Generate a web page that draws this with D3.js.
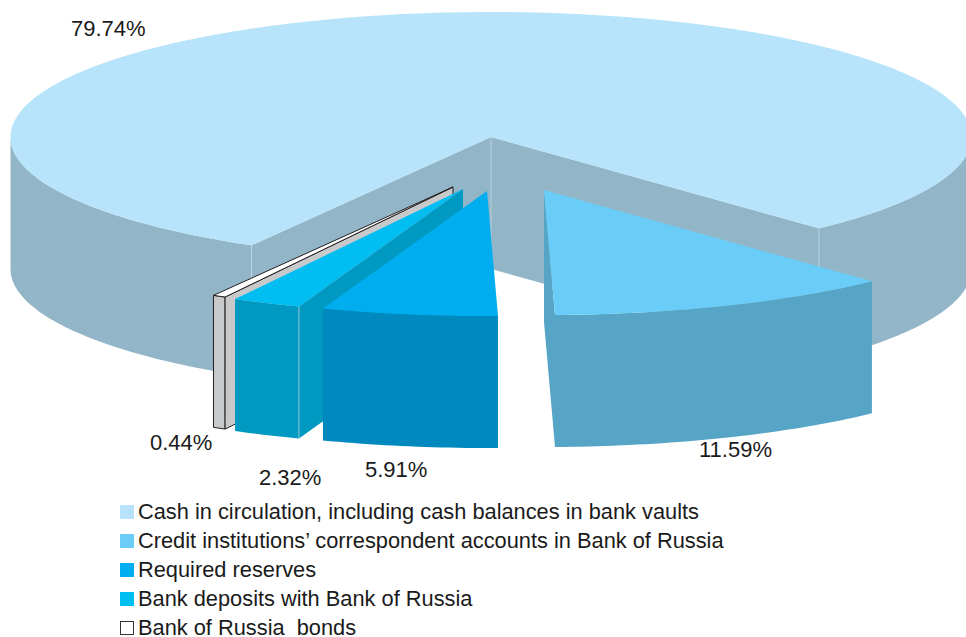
<!DOCTYPE html>
<html>
<head>
<meta charset="utf-8">
<script src="https://cdn.jsdelivr.net/npm/d3@7"></script>
<style>
body { margin: 0; background: #fff; overflow: hidden; }
svg { display: block; }
text { font-family: "Liberation Sans", Arial, sans-serif; fill: #1a1a1a; }
</style>
</head>
<body>
<script>
var categories = [
    "Cash in circulation, including cash balances in bank vaults",
    "Credit institutions\u2019 correspondent accounts in Bank of Russia",
    "Required reserves",
    "Bank deposits with Bank of Russia",
    "Bank of Russia  bonds"
];
var shares = [79.74, 11.59, 5.91, 2.32, 0.44];
var shareLabels = ["79.74%", "11.59%", "5.91%", "2.32%", "0.44%"];

var topColors = ["#b7e4fa", "#69cdf7", "#00aeef", "#00bdf2", "#ffffff"];
var sideColors = ["#93b5c8", "#56a5c6", "#0089bf", "#0099c2", "#c8c9cb"];

var width = 966,
    height = 637,
    cx = 491,
    cy = 137,
    rx = 480.5,
    ry = 125,
    depth = 132;

// how far each slice is pulled out of the pie, in pixels
var offsetX = [0, 53, -4, -28, -38];
var offsetY = [0, 53, 54, 52, 50];
var labelX = [71, 699, 365, 259, 150];
var labelY = [36, 457, 477, 485, 450];

// back to front
var drawOrder = [0, 4, 3, 2, 1];

var xScale = d3.scaleLinear().domain([-1, 1]).range([cx - rx, cx + rx]);
var yScale = d3.scaleLinear().domain([-1, 1]).range([cy - ry, cy + ry]);

var toRad = Math.PI / 180;
var start = 209.9 * toRad;
var pie = d3.pie().sort(null).startAngle(start).endAngle(start + 2 * Math.PI);
var slices = pie(shares);

var line = d3.line();

var svg = d3.select("body").append("svg")
    .attr("width", width)
    .attr("height", height);

var rim = (a, i, dy) => [
    xScale(Math.sin(a)) + offsetX[i],
    yScale(-Math.cos(a)) + offsetY[i] + dy
];
var apex = (i, dy) => [cx + offsetX[i], cy + offsetY[i] + dy];

var arcPoints = (a0, a1, i, dy) => {
    var steps = Math.max(2, Math.ceil((a1 - a0) / (1 * toRad)));
    return d3.range(steps + 1).map(k => rim(a0 + (a1 - a0) * k / steps, i, dy));
};

drawOrder.forEach(i => {
    var s = slices[i];
    var g = svg.append("g").attr("class", "slice");
    var stroke = i == 4 ? "#231f20" : "none";

    // outer wall, only the part turned to the viewer
    [[90, 270], [450, 630]].forEach(r => {
        var a0 = Math.max(s.startAngle, r[0] * toRad),
            a1 = Math.min(s.endAngle, r[1] * toRad);
        if (a1 <= a0) return;
        g.append("path")
            .attr("d", line(arcPoints(a0, a1, i, 0).concat(arcPoints(a0, a1, i, depth).reverse())) + "Z")
            .attr("fill", sideColors[i])
            .attr("stroke", stroke);
    });

    // cut faces
    var faces = [];
    if (Math.sin(s.startAngle) < 0) faces.push(s.startAngle);
    if (Math.sin(s.endAngle) > 0) faces.push(s.endAngle);
    faces.forEach(a => {
        g.append("path")
            .attr("d", line([apex(i, 0), apex(i, depth), rim(a, i, depth), rim(a, i, 0)]) + "Z")
            .attr("fill", sideColors[i])
            .attr("stroke", stroke);
    });

    // thin light seams
    if (i == 0 || i == 3) {
        var seams = i == 0 ? [s.startAngle, s.endAngle] : [s.startAngle];
        seams.forEach(a => {
            g.append("path")
                .attr("d", line([rim(a, i, 0), rim(a, i, depth)]))
                .attr("stroke", "#c4dbe6")
                .attr("stroke-width", 0.7)
                .attr("fill", "none");
        });
        if (i == 0) {
            g.append("path")
                .attr("d", line([apex(i, 0), apex(i, depth)]))
                .attr("stroke", "#c4dbe6")
                .attr("stroke-width", 0.7);
        }
    }

    // top
    g.append("path")
        .attr("d", line([apex(i, 0)].concat(arcPoints(s.startAngle, s.endAngle, i, 0))) + "Z")
        .attr("fill", topColors[i])
        .attr("stroke", stroke);
});

svg.selectAll("text.share")
    .data(shareLabels)
    .enter().append("text")
    .attr("class", "share")
    .attr("x", (d, i) => labelX[i])
    .attr("y", (d, i) => labelY[i])
    .attr("font-size", 22)
    .text(d => d);

var legendY = d3.scaleLinear().domain([0, 4]).range([519, 635]);

var legend = svg.selectAll("g.legend")
    .data(categories)
    .enter().append("g")
    .attr("class", "legend")
    .attr("transform", (d, i) => "translate(120," + legendY(i) + ")");

legend.append("rect")
    .attr("x", (d, i) => i == 4 ? 0.5 : 0)
    .attr("y", (d, i) => i == 4 ? -13.5 : -14)
    .attr("width", (d, i) => i == 4 ? 13 : 14)
    .attr("height", (d, i) => i == 4 ? 13 : 14)
    .attr("fill", (d, i) => topColors[i])
    .attr("stroke", (d, i) => i == 4 ? "#333" : "none");

legend.append("text")
    .attr("x", 18)
    .attr("font-size", 21.8)
    .style("white-space", "pre")
    .attr("xml:space", "preserve")
    .text(d => d);
</script>
</body>
</html>
